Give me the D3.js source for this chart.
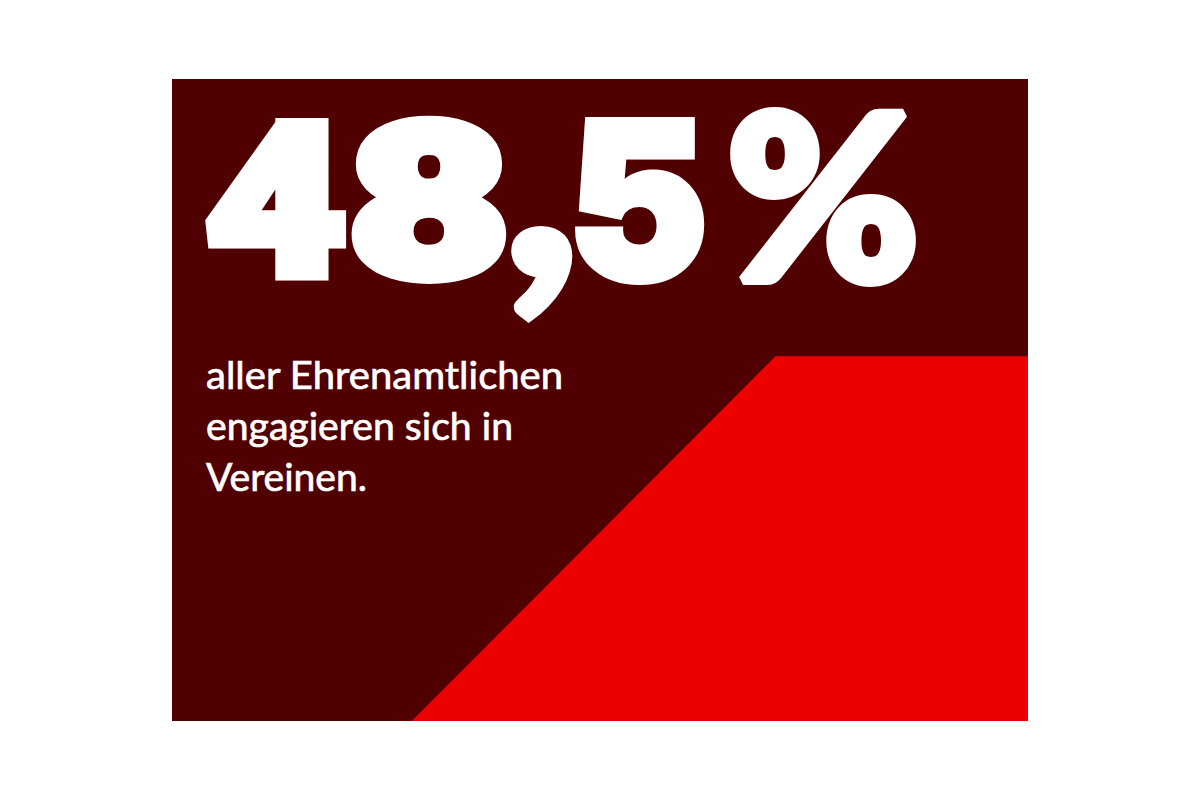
<!DOCTYPE html>
<html>
<head>
<meta charset="utf-8">
<script src="https://d3js.org/d3.v7.min.js"></script>
<style>
html,body{margin:0;padding:0;background:#fff;}
svg{display:block;}
</style>
</head>
<body>
<div id="chart"></div>
<script>
var bigGlyphs = ['4', '8', ',', '5', '%'];
var captionLines = ['aller Ehrenamtlichen', 'engagieren sich in', 'Vereinen.'];
// corners of the red shape, in percent of the panel
var shapeX = [70.5, 100, 100, 28];
var shapeY = [43.2, 43.2, 100, 100];

var width = 1200, height = 800;
var panel = {left:172, right:1028, top:79, bottom:721};

// where each big glyph has to land, and how much it gets fattened
var glyphBox = [
  {x0:205, x1:347, y0:116, y1:282, sw:12, font:'Roboto'},
  {x0:352, x1:506, y0:114, y1:285, sw:14, font:'Roboto'},
  {x0:510, x1:573, y0:225, y1:324, sw:6, font:'Lato'},
  {x0:575, x1:705, y0:116, y1:285, sw:8, font:'Inter'},
  {x0:730, x1:917, y0:107, y1:287, sw:10, font:'Lato'}
];
var captionWidths = [357, 307, 161];

var x = d3.scaleLinear().domain([0,100]).range([panel.left,panel.right]);
var y = d3.scaleLinear().domain([0,100]).range([panel.top,panel.bottom]);

var svg = d3.select('#chart').append('svg')
  .attr('width',width)
  .attr('height',height);

svg.append('rect')
  .attr('x',x(0))
  .attr('y',y(0))
  .attr('width',x(100)-x(0))
  .attr('height',y(100)-y(0))
  .attr('fill','#500000');

var line = d3.line()
  .x(function(d){return x(d[0])})
  .y(function(d){return y(d[1])});

svg.append('path')
  .attr('d',line(d3.zip(shapeX,shapeY))+'Z')
  .attr('fill','#ec0000');

// measure the ink of a glyph, then stretch it into its box
var ctx = document.createElement('canvas').getContext('2d');

bigGlyphs.forEach(function(g,i){
  var box = glyphBox[i];
  ctx.font = '900 200px "'+box.font+'"';
  var m = ctx.measureText(g);
  var inkW = m.actualBoundingBoxRight + m.actualBoundingBoxLeft;
  var inkH = m.actualBoundingBoxAscent + m.actualBoundingBoxDescent;
  var sx = (box.x1-box.x0-box.sw)/inkW;
  var sy = (box.y1-box.y0-box.sw)/inkH;
  var tx = box.x0+box.sw/2+m.actualBoundingBoxLeft*sx;
  var ty = box.y0+box.sw/2+m.actualBoundingBoxAscent*sy;
  svg.append('text')
    .attr('transform','translate('+tx+','+ty+') scale('+sx+','+sy+')')
    .attr('fill','#fff')
    .attr('stroke','#fff')
    .attr('stroke-width',box.sw)
    .attr('stroke-linejoin','miter')
    .attr('stroke-miterlimit',1.5)
    .style('vector-effect','non-scaling-stroke')
    .style('font-family',box.font)
    .style('font-weight',900)
    .style('font-size','200px')
    .text(g);
});

svg.selectAll('text.caption')
  .data(captionLines)
  .enter().append('text')
  .attr('class','caption')
  .attr('x',206)
  .attr('y',function(d,i){return 389+i*51})
  .attr('textLength',function(d,i){return captionWidths[i]})
  .attr('lengthAdjust','spacingAndGlyphs')
  .attr('fill','#fff')
  .attr('stroke','#fff')
  .attr('stroke-width',0.7)
  .style('font-family','Lato')
  .style('font-weight',400)
  .style('font-size','39.5px')
  .text(function(d){return d});
</script>
</body>
</html>
